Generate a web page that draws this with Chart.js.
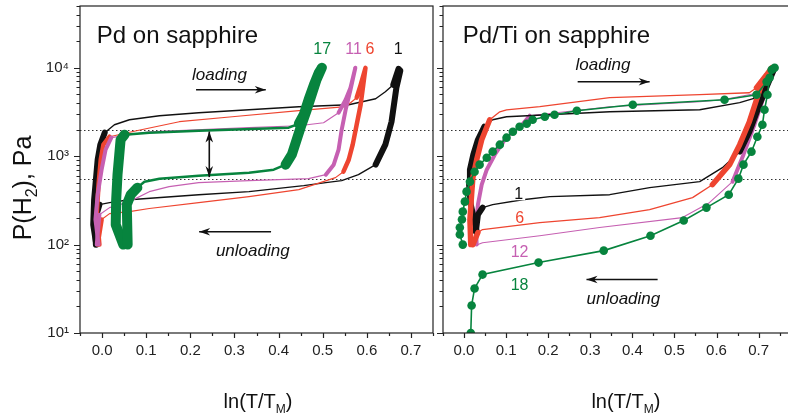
<!DOCTYPE html>
<html>
<head>
<meta charset="utf-8">
<script src="https://cdn.jsdelivr.net/npm/chart.js@4/dist/chart.umd.min.js"></script>
<style>
  html, body { margin: 0; padding: 0; background: #fff; overflow: hidden; }
  #wrap { position: relative; width: 788px; height: 419px; overflow: hidden; }
  #left { position: absolute; left: 0; top: 0; }
  #right { position: absolute; left: 437px; top: 0; }
</style>
</head>
<body>
<div id="wrap">
  <canvas id="left" width="437" height="419"></canvas>
  <canvas id="right" width="368" height="419"></canvas>
</div>
<script>
// ---- Pd on sapphire (left panel), cycles 1, 6, 11, 17 ----
const leftC1X = [-0.013, -0.020, -0.018, -0.014, -0.010, -0.004, 0.006, 0.028, 0.062, 0.130, 0.219, 0.333, 0.446, 0.559, 0.620, 0.642, 0.660, 0.672, 0.676, 0.667, 0.656, 0.642, 0.620, 0.581, 0.543, 0.507, 0.457, 0.333, 0.219, 0.062, 0.017, -0.006, -0.016, -0.014];
const leftC1P = [100, 168, 322, 543, 912, 1350, 1845, 2270, 2585, 2870, 3100, 3350, 3630, 3820, 4460, 5350, 6420, 9750, 9300, 5940, 2455, 1350, 802, 618, 529, 502, 464, 397, 367, 322, 298, 283, 192, 100];

const leftC6X = [-0.006, -0.012, -0.008, -0.003, 0.003, 0.017, 0.078, 0.175, 0.295, 0.446, 0.552, 0.577, 0.586, 0.597, 0.592, 0.586, 0.577, 0.568, 0.559, 0.547, 0.529, 0.446, 0.333, 0.219, 0.107, 0.062, 0.017, -0.001, -0.010];
const leftC6P = [100, 218, 476, 912, 1350, 1660, 1940, 2455, 2795, 3270, 3630, 4590, 6420, 10000, 6420, 3820, 2270, 1350, 912, 668, 572, 418, 349, 298, 256, 236, 224, 192, 100];

const leftC11X = [-0.008, -0.015, -0.010, -0.001, 0.008, 0.021, 0.107, 0.333, 0.446, 0.502, 0.536, 0.552, 0.563, 0.574, 0.563, 0.552, 0.543, 0.536, 0.525, 0.507, 0.468, 0.333, 0.219, 0.152, 0.107, 0.062, 0.017, -0.006, -0.012];
const leftC11P = [100, 192, 367, 703, 1185, 1620, 1890, 2100, 2210, 2390, 3100, 4350, 5940, 10000, 5640, 3350, 1990, 1185, 802, 618, 557, 529, 502, 452, 397, 306, 262, 218, 100];

const leftC17X = [0.048, 0.031, 0.032, 0.035, 0.039, 0.042, 0.051, 0.107, 0.219, 0.423, 0.446, 0.457, 0.468, 0.480, 0.491, 0.498, 0.486, 0.475, 0.464, 0.452, 0.441, 0.430, 0.416, 0.389, 0.333, 0.219, 0.130, 0.096, 0.080, 0.065, 0.056, 0.058];
const leftC17P = [100, 168, 322, 618, 1040, 1535, 1750, 1845, 1940, 2100, 2330, 2945, 4350, 6420, 8780, 10000, 7310, 4960, 3350, 2270, 1535, 1040, 802, 703, 651, 602, 557, 515, 441, 367, 283, 100];

// ---- Pd/Ti on sapphire (right panel), cycles 1, 6, 12, 18 ----
const rightC1X = [0.030, 0.016, 0.012, 0.014, 0.022, 0.033, 0.048, 0.068, 0.101, 0.346, 0.560, 0.655, 0.695, 0.714, 0.726, 0.738, 0.721, 0.702, 0.678, 0.655, 0.614, 0.560, 0.441, 0.346, 0.204, 0.139, 0.068, 0.044, 0.033, 0.028];
const rightC1P = [140, 283, 476, 703, 1040, 1535, 2155, 2585, 2795, 3180, 3350, 4030, 4590, 5940, 7710, 10000, 6420, 3820, 1890, 1125, 741, 515, 441, 367, 349, 322, 283, 262, 218, 140];

const rightC6X = [0.016, 0.014, 0.018, 0.021, 0.030, 0.042, 0.061, 0.085, 0.101, 0.180, 0.346, 0.560, 0.678, 0.695, 0.719, 0.731, 0.709, 0.678, 0.655, 0.631, 0.590, 0.543, 0.441, 0.322, 0.180, 0.044, 0.033, 0.021];
const rightC6P = [100, 192, 367, 572, 912, 1535, 2585, 3180, 3350, 3630, 4590, 4960, 5220, 5940, 8340, 10000, 6950, 2455, 1350, 802, 476, 340, 249, 202, 177, 148, 137, 100];

const rightC12X = [0.030, 0.028, 0.033, 0.042, 0.054, 0.073, 0.097, 0.132, 0.156, 0.346, 0.560, 0.614, 0.702, 0.721, 0.733, 0.714, 0.690, 0.664, 0.638, 0.583, 0.519, 0.322, 0.180, 0.044, 0.033];
const rightC12P = [100, 168, 283, 476, 703, 1040, 1535, 2100, 2870, 3630, 4130, 4350, 5220, 6950, 10000, 4960, 2270, 1040, 515, 298, 202, 156, 126, 105, 100];

const rightC18LoadX = [-0.003, -0.010, -0.010, -0.005, -0.003, 0.002, 0.006, 0.014, 0.025, 0.037, 0.054, 0.068, 0.085, 0.101, 0.116, 0.132, 0.149, 0.163, 0.192, 0.215, 0.268, 0.401, 0.619, 0.695, 0.719, 0.731];
const rightC18LoadP = [100, 130, 156, 192, 236, 306, 397, 515, 668, 802, 962, 1125, 1350, 1620, 1890, 2155, 2330, 2585, 2795, 2945, 3270, 3820, 4350, 4960, 6950, 9500];
const rightC18UnloadX = [0.738, 0.726, 0.721, 0.714, 0.709, 0.697, 0.683, 0.664, 0.652, 0.629, 0.576, 0.522, 0.443, 0.332, 0.177, 0.044, 0.025, 0.018, 0.016];
const rightC18UnloadP = [10000, 7710, 4960, 3350, 2270, 1660, 1125, 802, 557, 367, 262, 187, 126, 85.5, 62.6, 45.8, 31.9, 20.5, 10];

// axes
const xTickValues = [0, 0.1, 0.2, 0.3, 0.4, 0.5, 0.6, 0.7];
const yDecades = [10, 100, 1000, 10000];
const refLevels = [2000, 557];

const GREEN = '#07843e', RED = '#ee4530', PINK = '#c660b2', BLACK = '#111';
const FONT = '"Liberation Sans", Arial, sans-serif';
const SUP = { 1: '\u00b9', 2: '\u00b2', 3: '\u00b3', 4: '\u2074' };

function pts(xs, ps) {
  return xs.map((x, i) => ({ x: x, y: ps[i] }));
}

// noisy steep parts of the isotherms are drawn thick, plateaus thin
function steep(thick, thin) {
  return c => Math.abs(c.p1.y - c.p0.y) > Math.abs(c.p1.x - c.p0.x) ? thick : thin;
}

function trace(xs, ps, color, thick, thin) {
  return {
    data: pts(xs, ps),
    borderColor: color,
    backgroundColor: color,
    borderWidth: thin,
    pointRadius: 0,
    tension: 0,
    borderJoinStyle: 'round',
    borderCapStyle: 'round',
    segment: { borderWidth: steep(thick, thin) }
  };
}

function drawArrow(ctx, x0, y0, x1, y1, both) {
  const ang = Math.atan2(y1 - y0, x1 - x0);
  const L = 11, W = 3.8;
  ctx.beginPath();
  ctx.moveTo(x0, y0);
  ctx.lineTo(x1, y1);
  ctx.stroke();
  const head = (x, y, a) => {
    ctx.beginPath();
    ctx.moveTo(x, y);
    ctx.lineTo(x - L * Math.cos(a) + W * Math.sin(a), y - L * Math.sin(a) - W * Math.cos(a));
    ctx.lineTo(x - 0.7 * L * Math.cos(a), y - 0.7 * L * Math.sin(a));
    ctx.lineTo(x - L * Math.cos(a) - W * Math.sin(a), y - L * Math.sin(a) + W * Math.cos(a));
    ctx.closePath();
    ctx.fill();
  };
  head(x1, y1, ang);
  if (both) head(x0, y0, ang + Math.PI);
}

// text with a subscript part, centred on (cx, baseline cy)
function subText(ctx, parts, size, subSize, subDrop, cx, cy) {
  let total = 0;
  parts.forEach(p => {
    ctx.font = (p.sub ? subSize : size) + 'px ' + FONT;
    p.w = ctx.measureText(p.t).width;
    total += p.w;
  });
  let x = cx - total / 2;
  ctx.textAlign = 'left';
  ctx.textBaseline = 'alphabetic';
  parts.forEach(p => {
    ctx.font = (p.sub ? subSize : size) + 'px ' + FONT;
    ctx.fillText(p.t, x, cy + (p.sub ? subDrop : 0));
    x += p.w;
  });
}

const decor = {
  id: 'decor',
  beforeDatasetsDraw(chart) {
    const { ctx, chartArea: a, scales: { y } } = chart;
    ctx.save();
    ctx.strokeStyle = '#333';
    ctx.lineWidth = 1;
    ctx.setLineDash([1.5, 2.5]);
    refLevels.forEach(v => {
      const py = Math.round(y.getPixelForValue(v)) + 0.5;
      ctx.beginPath();
      ctx.moveTo(a.left, py);
      ctx.lineTo(a.right, py);
      ctx.stroke();
    });
    ctx.restore();
  },
  afterDraw(chart, args, o) {
    const { ctx, chartArea: a, scales: { x, y } } = chart;
    ctx.save();
    ctx.strokeStyle = '#222';
    ctx.fillStyle = '#222';
    ctx.lineWidth = 1.2;
    ctx.strokeRect(a.left, a.top, a.right - a.left, a.bottom - a.top);

    // x ticks: majors at the labelled values, minors half way
    const step = xTickValues[1] - xTickValues[0];
    ctx.beginPath();
    for (let v = xTickValues[0] - step; v <= x.max + 1e-9; v += step / 2) {
      if (v < x.min - 1e-9) continue;
      const px = Math.round(x.getPixelForValue(v)) + 0.5;
      const major = Math.abs(v / step - Math.round(v / step)) < 1e-6;
      ctx.moveTo(px, a.bottom);
      ctx.lineTo(px, a.bottom + (major ? 5 : 3));
    }
    // y ticks: decades long, 2..9 short
    yDecades.concat([yDecades[yDecades.length - 1] * 10]).forEach(d => {
      for (let k = 1; k <= 9; k++) {
        const v = k * d;
        if (v < y.min || v > y.max) continue;
        const py = Math.round(y.getPixelForValue(v)) + 0.5;
        ctx.moveTo(a.left, py);
        ctx.lineTo(a.left - (k === 1 ? 6 : 3.5), py);
      }
    });
    ctx.stroke();

    // annotations
    o.notes.forEach(n => {
      ctx.font = (n.italic ? 'italic ' : '') + n.size + 'px ' + FONT;
      ctx.textAlign = n.align || 'center';
      ctx.textBaseline = 'alphabetic';
      const px = x.getPixelForValue(n.x), py = y.getPixelForValue(n.y);
      if (n.bg) {
        const w = ctx.measureText(n.t).width;
        ctx.fillStyle = '#fff';
        ctx.fillRect(px - w / 2 - 2, py - n.size * 0.75, w + 4, n.size * 0.85);
      }
      ctx.fillStyle = n.color || '#111';
      ctx.fillText(n.t, px, py);
    });
    ctx.fillStyle = '#111';
    ctx.strokeStyle = '#111';
    ctx.lineWidth = 1.6;
    o.arrows.forEach(r => {
      drawArrow(ctx, x.getPixelForValue(r.x0), y.getPixelForValue(r.y0),
        x.getPixelForValue(r.x1), y.getPixelForValue(r.y1), r.both);
    });

    // axis titles
    ctx.fillStyle = '#111';
    subText(ctx, [{ t: 'ln(T/T' }, { t: 'M', sub: true }, { t: ')' }], 20, 12, 5,
      (a.left + a.right) / 2 + o.titleDx, 408);
    if (o.yTitle) {
      ctx.save();
      ctx.translate(31, 188);
      ctx.rotate(-Math.PI / 2);
      subText(ctx, [{ t: 'P(H' }, { t: '2', sub: true }, { t: '), Pa' }], 25, 16, 6, 0, 0);
      ctx.restore();
    }
    ctx.restore();
  }
};

function makePanel(id, datasets, xMax, yLabels, o) {
  return new Chart(document.getElementById(id), {
    type: 'line',
    data: { datasets: datasets },
    plugins: [decor],
    options: {
      responsive: false,
      animation: false,
      devicePixelRatio: 1,
      layout: { padding: { top: 6, right: 4, left: 0, bottom: 0 } },
      plugins: { legend: { display: false }, tooltip: { enabled: false }, decor: o },
      scales: {
        x: {
          type: 'linear', min: -0.05, max: xMax,
          afterBuildTicks: s => { s.ticks = xTickValues.map(v => ({ value: v })); },
          afterFit: s => { s.height = 86; s.paddingLeft = 0; s.paddingRight = 0; },
          grid: { display: false, drawTicks: false },
          border: { display: false },
          ticks: {
            autoSkip: false, maxRotation: 0, padding: 9, color: '#222',
            font: { family: FONT, size: 15 },
            callback: v => (Math.abs(v) < 1e-9 ? 0 : v).toFixed(1)
          }
        },
        y: {
          type: 'logarithmic', min: 10, max: 50000,
          afterBuildTicks: s => { s.ticks = yDecades.map(v => ({ value: v, major: true })); },
          afterFit: s => { s.width = yLabels ? 80 : 6; s.paddingTop = 0; s.paddingBottom = 0; },
          grid: { display: false, drawTicks: false },
          border: { display: false },
          ticks: {
            display: yLabels, autoSkip: false, padding: 11, color: '#222',
            font: { family: FONT, size: 15 },
            callback: v => '10' + SUP[Math.round(Math.log10(v))]
          }
        }
      }
    }
  });
}

// first dataset is painted on top
makePanel('left', [
  trace(leftC17X, leftC17P, GREEN, 10, 2.5),
  trace(leftC11X, leftC11P, PINK, 4, 1.2),
  trace(leftC6X, leftC6P, RED, 4.5, 1.2),
  trace(leftC1X, leftC1P, BLACK, 6, 1.4)
], 0.75, true, {
  titleDx: 1.5, yTitle: true,
  notes: [
    { t: 'Pd on sapphire', x: -0.012, y: 19170, size: 24, align: 'left' },
    { t: 'loading', x: 0.204, y: 7310, size: 17, italic: true, align: 'left' },
    { t: 'unloading', x: 0.258, y: 75, size: 17, italic: true, align: 'left' },
    { t: '17', x: 0.499, y: 14390, size: 16, color: GREEN },
    { t: '11', x: 0.570, y: 14390, size: 16, color: PINK },
    { t: '6', x: 0.607, y: 14390, size: 16, color: RED },
    { t: '1', x: 0.671, y: 14390, size: 16, color: BLACK }
  ],
  arrows: [
    { x0: 0.213, y0: 5640, x1: 0.371, y1: 5640 },
    { x0: 0.383, y0: 140, x1: 0.220, y1: 140 },
    { x0: 0.243, y0: 1900, x1: 0.243, y1: 580, both: true }
  ]
});

const green18 = {
  data: pts(rightC18LoadX.concat(rightC18UnloadX), rightC18LoadP.concat(rightC18UnloadP)),
  borderColor: GREEN, backgroundColor: GREEN, borderWidth: 1.6,
  pointRadius: 4.3, pointBorderWidth: 0, tension: 0
};

makePanel('right', [
  green18,
  trace(rightC6X, rightC6P, RED, 5.5, 1.3),
  trace(rightC1X, rightC1P, BLACK, 6, 1.4),
  trace(rightC12X, rightC12P, PINK, 4, 1.1)
], 0.8, false, {
  titleDx: 4, yTitle: false,
  notes: [
    { t: 'Pd/Ti on sapphire', x: -0.003, y: 19170, size: 24, align: 'left' },
    { t: 'loading', x: 0.265, y: 9490, size: 17, italic: true, align: 'left' },
    { t: 'unloading', x: 0.291, y: 21.5, size: 17, italic: true, align: 'left' },
    { t: '1', x: 0.130, y: 331, size: 16, color: BLACK, bg: true },
    { t: '6', x: 0.132, y: 177, size: 16, color: RED },
    { t: '12', x: 0.132, y: 73, size: 16, color: PINK },
    { t: '18', x: 0.132, y: 31, size: 16, color: GREEN }
  ],
  arrows: [
    { x0: 0.270, y0: 6950, x1: 0.441, y1: 6950 },
    { x0: 0.460, y0: 40.3, x1: 0.291, y1: 40.3 }
  ]
});
</script>
</body>
</html>
